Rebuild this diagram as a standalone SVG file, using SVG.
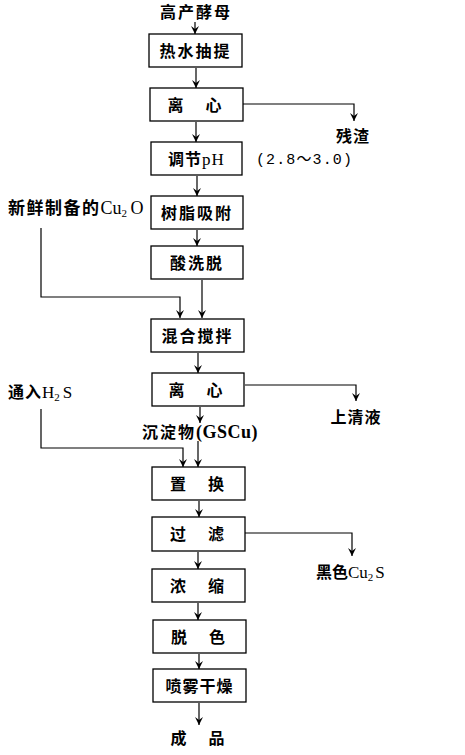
<svg xmlns="http://www.w3.org/2000/svg" width="465" height="755" viewBox="0 0 465 755">
<defs>
<marker id="ah" markerUnits="userSpaceOnUse" markerWidth="9" markerHeight="8" refX="8" refY="4" orient="auto" viewBox="0 0 9 8">
<path d="M0,0 L8,4 L0,8 L3,4 Z" fill="#000"/>
</marker>
<style>
.box{fill:#fff;stroke:#000;stroke-width:1.3}
.t{font-family:"Noto Sans CJK SC","Liberation Serif",sans-serif;font-size:16px;font-weight:700;fill:#000}
.tc{text-anchor:middle}
.lat{font-family:"Liberation Serif",serif;font-weight:400}
.c{fill:none;stroke:#000;stroke-width:1.2}
</style>
</defs>
<rect width="465" height="755" fill="#fff"/>
<g id="connectors">
<path class="c" d="M195,22 V34" marker-end="url(#ah)"/>
<path class="c" d="M196,68 V88" marker-end="url(#ah)"/>
<path class="c" d="M243,104 H354 V121" marker-end="url(#ah)"/>
<path class="c" d="M196,122 V142" marker-end="url(#ah)"/>
<path class="c" d="M197,176 V196" marker-end="url(#ah)"/>
<path class="c" d="M197,230 V246" marker-end="url(#ah)"/>
<path class="c" d="M41,228 V297 H180 V318" marker-end="url(#ah)"/>
<path class="c" d="M202,280 V318" marker-end="url(#ah)"/>
<path class="c" d="M198,353 V373" marker-end="url(#ah)"/>
<path class="c" d="M245,385 H356 V401" marker-end="url(#ah)"/>
<path class="c" d="M200,407 V423" marker-end="url(#ah)"/>
<path class="c" d="M41,409 V448 H183 V467" marker-end="url(#ah)"/>
<path class="c" d="M198,441 V467" marker-end="url(#ah)"/>
<path class="c" d="M199,501 V517" marker-end="url(#ah)"/>
<path class="c" d="M245,533 H352 V556" marker-end="url(#ah)"/>
<path class="c" d="M198,552 V569" marker-end="url(#ah)"/>
<path class="c" d="M198,603 V620" marker-end="url(#ah)"/>
<path class="c" d="M199,654 V669" marker-end="url(#ah)"/>
<path class="c" d="M199,703 V725" marker-end="url(#ah)"/>
</g>
<g id="n-start"><text class="t tc" x="196" y="18" letter-spacing="2">高产酵母</text></g>
<g id="n1"><rect class="box" x="149" y="34" width="93" height="33"/><text class="t tc" x="195.5" y="56.5" letter-spacing="2">热水抽提</text></g>
<g id="n2"><rect class="box" x="150" y="88" width="93" height="33"/><text class="t tc" x="196" y="110.5" letter-spacing="3">离　心</text></g>
<g id="n-residue"><text class="t tc" x="353" y="142" letter-spacing="1">残渣</text></g>
<g id="n3"><rect class="box" x="151" y="142" width="91" height="33"/><text class="t" x="168" y="164.5" letter-spacing="1">调节<tspan class="lat" font-size="17">pH</tspan></text></g>
<g id="n-ph"><text x="256" y="164" font-size="15" textLength="96" lengthAdjust="spacing" style="font-family:'Liberation Mono','Noto Sans CJK SC',monospace">(2.8～3.0)</text></g>
<g id="n4"><rect class="box" x="151" y="196" width="92" height="33"/><text class="t tc" x="197" y="218.5" letter-spacing="2">树脂吸附</text></g>
<g id="n-cu2o"><text class="t" x="8" y="214" letter-spacing="1.5" style="font-size:17px">新鲜制备的<tspan class="lat" letter-spacing="0" style="font-size:18px">Cu</tspan><tspan class="lat" font-size="11" dy="3" style="font-size:11px">2</tspan><tspan class="lat" dy="-3" dx="2" style="font-size:18px">O</tspan></text></g>
<g id="n5"><rect class="box" x="151" y="246" width="92" height="33"/><text class="t tc" x="197" y="268.5" letter-spacing="2">酸洗脱</text></g>
<g id="n6"><rect class="box" x="151" y="319" width="93" height="33"/><text class="t tc" x="197.5" y="341.5" letter-spacing="2">混合搅拌</text></g>
<g id="n7"><rect class="box" x="152" y="373" width="92" height="33"/><text class="t tc" x="197" y="395.5" letter-spacing="3">离　心</text></g>
<g id="n-super"><text class="t tc" x="356" y="423" letter-spacing="1">上清液</text></g>
<g id="n-h2s"><text class="t" x="8" y="398" letter-spacing="1">通入<tspan class="lat" font-size="17" letter-spacing="0">H</tspan><tspan class="lat" font-size="11" dy="3">2</tspan><tspan class="lat" font-size="17" dy="-3" dx="2">S</tspan></text></g>
<g id="n-gscu"><text class="t" x="142" y="438" letter-spacing="2">沉淀物<tspan class="lat" letter-spacing="0.5" style="font-size:18px;font-weight:700">(GSCu)</tspan></text></g>
<g id="n8"><rect class="box" x="152" y="467" width="93" height="33"/><text class="t tc" x="198.5" y="489.5" letter-spacing="3">置　换</text></g>
<g id="n9"><rect class="box" x="152" y="517" width="93" height="34"/><text class="t tc" x="198.5" y="540" letter-spacing="3">过　滤</text></g>
<g id="n-cu2s"><text class="t" x="316" y="578">黑色<tspan class="lat" font-size="17">Cu</tspan><tspan class="lat" font-size="11" dy="3">2</tspan><tspan class="lat" font-size="17" dy="-3" dx="2">S</tspan></text></g>
<g id="n10"><rect class="box" x="152" y="569" width="93" height="33"/><text class="t tc" x="198.5" y="591.5" letter-spacing="3">浓　缩</text></g>
<g id="n11"><rect class="box" x="153" y="620" width="93" height="33"/><text class="t tc" x="199.5" y="642.5" letter-spacing="3">脱　色</text></g>
<g id="n12"><rect class="box" x="153" y="669" width="93" height="33"/><text class="t tc" x="199.5" y="691.5" letter-spacing="1">喷雾干燥</text></g>
<g id="n-end"><text class="t tc" x="199" y="744" letter-spacing="3">成　品</text></g>
</svg>
